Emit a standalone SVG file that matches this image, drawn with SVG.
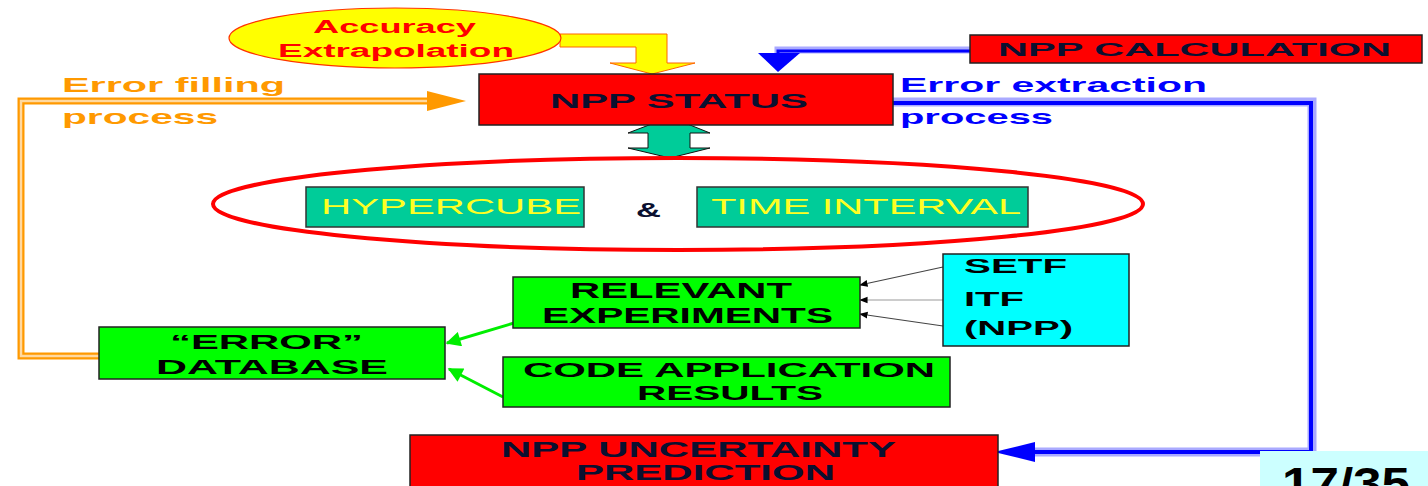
<svg xmlns="http://www.w3.org/2000/svg" width="1428" height="486" viewBox="0 0 1428 486">
<defs>
<style>
.t{font-family:"Liberation Sans",Arial,sans-serif;font-weight:bold;}
.dk{fill:#0a1030;}
.bk{fill:#000;}
.yl{fill:#ffff22;font-weight:normal;}
.red{fill:#ff0000;stroke:#222;stroke-width:1.5;}
.grn{fill:#00ff00;stroke:#222;stroke-width:1.5;}
.teal{fill:#00cc99;stroke:#333;stroke-width:1.5;}
</style>
<marker id="ga" viewBox="0 0 10 10" refX="9" refY="5" markerWidth="6" markerHeight="5" orient="auto" markerUnits="strokeWidth">
<path d="M0,0 L10,5 L0,10 Z" fill="#00ee00"/>
</marker>
<marker id="ka" viewBox="0 0 10 10" refX="9" refY="5" markerWidth="7" markerHeight="7" orient="auto" markerUnits="strokeWidth">
<path d="M0,1 L10,5 L0,9 Z" fill="#000"/>
</marker>
</defs>
<rect width="1428" height="486" fill="#fff"/>

<g id="connectors">
<!-- orange error filling -->
<path d="M99,356 H21 V101 H430" fill="none" stroke="#ff9900" stroke-width="7"/>
<path d="M99,356 H21 V101 H430" fill="none" stroke="#ffd9a0" stroke-width="2.5"/>
<polygon points="427,91 466,101 427,111" fill="#ff9900"/>
<!-- blue error extraction -->
<path d="M893,102 H1312 V452 H1035" fill="none" stroke="#aaaaff" stroke-width="9"/>
<path d="M893,103 H1311 V452 H1035" fill="none" stroke="#0000ff" stroke-width="4"/>
<polygon points="1035,442 994,452 1035,462" fill="#0000ff"/>
<!-- NPP calculation -->
<path d="M970,50 H778 V56" fill="none" stroke="#aaaaff" stroke-width="7"/>
<path d="M970,51 H778 V56" fill="none" stroke="#0000ff" stroke-width="3"/>
<polygon points="758,53 800,53 778,72" fill="#0000ff"/>
<!-- accuracy yellow bent arrow -->
<polygon points="560,34 667,34 667,63 695,63 652,74 610,63 636,63 636,47 560,47" fill="#ffff00" stroke="#ff6600" stroke-width="1"/>
<!-- double teal arrow -->
<polygon points="670,117 710,133 690,133 690,148 710,148 670,158 628,148 648,148 648,133 628,133" fill="#00cc99" stroke="#111" stroke-width="1"/>
<!-- green arrows -->
<line x1="514" y1="323" x2="447" y2="343" stroke="#00ee00" stroke-width="3" marker-end="url(#ga)"/>
<line x1="503" y1="397" x2="449" y2="369" stroke="#00ee00" stroke-width="3" marker-end="url(#ga)"/>
<!-- thin black arrows -->
<line x1="943" y1="267" x2="860" y2="285" stroke="#444" stroke-width="1.2" marker-end="url(#ka)"/>
<line x1="943" y1="300" x2="860" y2="300" stroke="#999" stroke-width="1.2" marker-end="url(#ka)"/>
<line x1="943" y1="326" x2="860" y2="314" stroke="#444" stroke-width="1.2" marker-end="url(#ka)"/>
</g>

<g id="accuracy">
<ellipse cx="395" cy="38" rx="166" ry="30" fill="#ffff00" stroke="#ff3300" stroke-width="1.2"/>
<text class="t" x="313" y="33" font-size="18" fill="#ff0000" textLength="163" lengthAdjust="spacingAndGlyphs">Accuracy</text>
<text class="t" x="278" y="57" font-size="18" fill="#ff0000" textLength="236" lengthAdjust="spacingAndGlyphs">Extrapolation</text>
</g>

<g id="npp-status">
<rect class="red" x="479" y="74" width="414" height="51"/>
<text class="t dk" x="550" y="108" font-size="21" textLength="258" lengthAdjust="spacingAndGlyphs">NPP STATUS</text>
</g>

<g id="npp-calculation">
<rect class="red" x="970" y="35" width="452" height="28"/>
<text class="t dk" x="998" y="56" font-size="19" textLength="393" lengthAdjust="spacingAndGlyphs">NPP CALCULATION</text>
</g>

<g id="label-filling">
<text class="t" x="62" y="92" font-size="21" fill="#ff9900" textLength="223" lengthAdjust="spacingAndGlyphs">Error filling</text>
<text class="t" x="62" y="124" font-size="21" fill="#ff9900" textLength="156" lengthAdjust="spacingAndGlyphs">process</text>
</g>

<g id="label-extraction">
<text class="t" x="900" y="92" font-size="21" fill="#0000ff" textLength="307" lengthAdjust="spacingAndGlyphs">Error extraction</text>
<text class="t" x="900" y="124" font-size="21" fill="#0000ff" textLength="153" lengthAdjust="spacingAndGlyphs">process</text>
</g>

<g id="hyper-ellipse">
<ellipse cx="678" cy="204" rx="465" ry="46" fill="none" stroke="#ff0000" stroke-width="4"/>
</g>

<g id="hypercube">
<rect class="teal" x="306" y="187" width="278" height="40"/>
<text class="t yl" x="321" y="214" font-size="22" textLength="260" lengthAdjust="spacingAndGlyphs">HYPERCUBE</text>
</g>

<g id="amp">
<text class="t dk" x="636" y="217" font-size="20" textLength="25" lengthAdjust="spacingAndGlyphs">&amp;</text>
</g>

<g id="time-interval">
<rect class="teal" x="697" y="187" width="331" height="40"/>
<text class="t yl" x="711" y="214" font-size="22" textLength="310" lengthAdjust="spacingAndGlyphs">TIME INTERVAL</text>
</g>

<g id="relevant">
<rect class="grn" x="513" y="277" width="347" height="51"/>
<text class="t bk" x="570" y="298" font-size="22" textLength="222" lengthAdjust="spacingAndGlyphs">RELEVANT</text>
<text class="t bk" x="542" y="323" font-size="22" textLength="291" lengthAdjust="spacingAndGlyphs">EXPERIMENTS</text>
</g>

<g id="sources">
<rect x="943" y="254" width="186" height="92" fill="#00ffff" stroke="#222" stroke-width="1.5"/>
<text class="t bk" x="964" y="273" font-size="21" textLength="103" lengthAdjust="spacingAndGlyphs">SETF</text>
<text class="t bk" x="964" y="306" font-size="21" textLength="60" lengthAdjust="spacingAndGlyphs">ITF</text>
<text class="t bk" x="964" y="335" font-size="21" textLength="109" lengthAdjust="spacingAndGlyphs">(NPP)</text>
</g>

<g id="database">
<rect class="grn" x="99" y="327" width="346" height="52"/>
<text class="t bk" x="170" y="349" font-size="21" textLength="193" lengthAdjust="spacingAndGlyphs">“ERROR”</text>
<text class="t bk" x="156" y="374" font-size="21" textLength="232" lengthAdjust="spacingAndGlyphs">DATABASE</text>
</g>

<g id="code-application">
<rect class="grn" x="503" y="357" width="447" height="50"/>
<text class="t bk" x="523" y="377" font-size="21" textLength="412" lengthAdjust="spacingAndGlyphs">CODE APPLICATION</text>
<text class="t bk" x="637" y="400" font-size="21" textLength="186" lengthAdjust="spacingAndGlyphs">RESULTS</text>
</g>

<g id="uncertainty">
<rect class="red" x="410" y="435" width="588" height="60"/>
<text class="t dk" x="501" y="457" font-size="22" textLength="395" lengthAdjust="spacingAndGlyphs">NPP UNCERTAINTY</text>
<text class="t dk" x="576" y="480" font-size="22" textLength="259" lengthAdjust="spacingAndGlyphs">PREDICTION</text>
</g>

<g id="page">
<rect x="1260" y="451" width="170" height="40" fill="#ccffff"/>
<text class="t bk" x="1282" y="499" font-size="44" textLength="128" lengthAdjust="spacingAndGlyphs">17/35</text>
</g>
</svg>
